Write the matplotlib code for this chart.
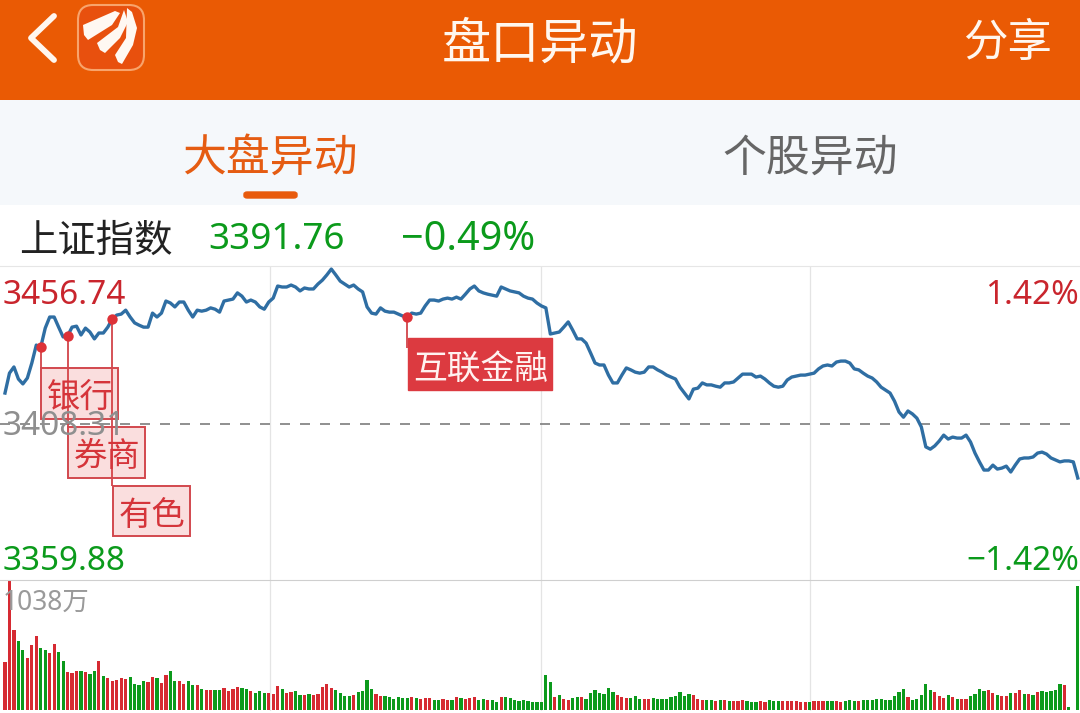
import numpy as np
import matplotlib
matplotlib.use('Agg')
import matplotlib.pyplot as plt
from matplotlib.patches import Rectangle, FancyBboxPatch, Polygon

plt.rcParams['font.family'] = ['Noto Sans', 'Noto Sans CJK SC', 'DejaVu Sans']

PRE_CLOSE = 3408.31
HIGH = 3456.74
LOW = 3359.88
price = [
3417.8,3423.9,3425.8,3422.1,3420.6,3422.4,3427.0,3432.5,3431.9,3437.7,3441.1,3441.1,3438.0,3435.0,3435.3,3438.0,3438.3,3435.6,3437.7,3436.5,
3434.4,3436.2,3436.2,3438.0,3440.5,3441.7,3442.0,3443.2,3441.1,3439.3,3438.6,3438.0,3438.0,3442.3,3441.1,3442.3,3446.0,3445.4,3444.2,3445.7,
3445.7,3443.2,3441.1,3443.2,3442.9,3443.2,3443.9,3443.5,3442.6,3446.0,3446.3,3446.6,3448.5,3447.5,3445.7,3446.3,3445.7,3444.2,3443.5,3445.7,
3446.9,3450.6,3450.3,3450.3,3450.9,3450.3,3449.1,3450.0,3449.7,3449.7,3451.2,3452.4,3454.0,3455.8,3454.0,3452.1,3451.2,3450.3,3450.9,3449.7,
3448.8,3444.2,3442.3,3442.0,3443.9,3442.9,3442.6,3442.6,3442.0,3441.4,3441.1,3442.3,3442.0,3442.3,3444.5,3446.3,3446.3,3446.0,3446.6,3446.9,
3446.6,3447.2,3446.6,3448.1,3449.7,3450.6,3449.1,3448.5,3448.1,3447.8,3447.5,3450.3,3449.7,3449.1,3448.8,3448.5,3447.5,3446.9,3446.6,3445.4,
3444.5,3443.9,3435.9,3436.2,3436.5,3438.0,3439.6,3437.1,3434.4,3434.4,3433.1,3430.1,3427.0,3426.4,3426.4,3423.3,3420.9,3420.9,3423.3,3425.5,
3424.9,3424.2,3423.9,3424.2,3425.8,3425.8,3424.9,3424.2,3423.3,3422.7,3422.1,3419.6,3417.8,3416.0,3419.0,3419.3,3420.9,3420.3,3420.3,3419.9,
3419.6,3420.9,3420.9,3421.2,3422.4,3423.6,3423.6,3423.6,3422.7,3423.0,3422.1,3420.9,3419.9,3419.6,3419.9,3421.8,3422.7,3423.0,3423.3,3423.3,
3423.6,3423.9,3425.2,3426.1,3426.4,3426.1,3427.3,3427.6,3427.6,3427.0,3425.2,3424.9,3423.9,3423.0,3422.4,3421.2,3419.6,3418.7,3417.8,3415.3,
3412.0,3410.4,3412.3,3411.4,3410.1,3407.4,3401.3,3400.6,3401.6,3403.1,3404.9,3403.7,3404.3,3404.0,3404.0,3404.9,3402.8,3399.4,3396.7,3394.2,
3394.2,3395.7,3394.5,3394.8,3395.4,3393.6,3395.7,3397.6,3397.9,3397.9,3398.2,3399.4,3399.7,3399.1,3397.9,3397.3,3396.7,3397.0,3397.0,3396.7,
3391.76]

volume = [
389,1038,643,555,482,415,523,595,501,482,456,528,464,397,308,295,311,316,306,287,
316,394,271,255,233,241,255,249,265,209,201,230,228,268,260,220,281,311,233,233,
212,236,201,198,169,158,163,161,161,177,155,169,182,174,166,150,139,150,134,139,
129,196,172,139,147,153,121,121,126,121,126,185,209,180,161,137,115,113,121,145,
155,241,172,126,113,115,105,91,102,94,94,105,96,91,96,99,80,80,88,83,
80,105,99,88,96,102,83,88,78,78,67,105,105,96,83,75,78,75,64,67,
67,281,225,105,123,88,80,94,107,105,91,137,158,137,129,177,145,123,107,96,
96,110,88,88,91,94,91,86,86,102,115,147,113,129,118,91,83,78,78,75,
78,83,75,72,70,80,72,62,64,72,64,78,75,72,75,75,72,72,67,62,
64,75,72,70,72,72,70,64,72,78,75,75,78,78,78,86,88,83,83,115,
147,172,105,80,88,121,206,158,145,110,94,118,105,88,88,88,113,129,172,150,
158,137,121,115,115,139,139,158,129,129,123,147,150,147,153,161,209,204,21,0,
1000]

direction = (
    "rrrggrrrggrrgg" "rrrgrggrgrrrrr"
    "ggggrrgrrggrrggrgrrg" "grrrrggrgggrrrgrrggr" "grrrrrggggrg"
    "gggrrggggggrgrrrggrr" "grgrrrggrggrgggggggg"
    "gggrgrrggrgggggggrrr" "gggrrgggggggggrrrggr"
    "grgrrrgggrrgggrrrrrr" "grrrggrrgggrgggggggg"
    "ggrgggggrrrgrgrrgggg" "rrgrrgrrgrgrgggggrg" "gg"
)

main_labels = [(8, '银行'), (14, '券商'), (24, '有色')]
hot_label = (90, '互联金融')

W, H = 1080, 713
RED = '#d62a32'
GREEN = '#0c9a1c'
GRAY = '#8f8f8f'
ORANGE = '#ea5a04'
TEXT_RED = '#c9252d'
TEXT_GREEN = '#0b9a1b'

fig = plt.figure(figsize=(W / 100, H / 100), dpi=100, facecolor='white')

def fx(x):
    return x / W

def fy(y):
    return 1 - y / H

def axes_px(x0, y0, x1, y1):
    return fig.add_axes([fx(x0), fy(y1), fx(x1) - fx(x0), (y1 - y0) / H])

def txt(x, y, s, size, color, ha='left', **kw):
    fig.text(fx(x), fy(y), s, fontsize=size, color=color, ha=ha, va='center', **kw)

def rect(x0, y0, x1, y1, **kw):
    r = Rectangle((fx(x0), fy(y1)), fx(x1) - fx(x0), (y1 - y0) / H,
                  transform=fig.transFigure, **kw)
    fig.add_artist(r)

# ---- chrome
rect(0, 0, W, 100, facecolor=ORANGE, edgecolor='none')
rect(0, 100, W, 205, facecolor='#f5f8fb', edgecolor='none')
fig.add_artist(plt.Line2D([fx(54), fx(31), fx(54)], [fy(16), fy(38), fy(60)],
                          color='#fff6ee', lw=4.2, solid_capstyle='round',
                          solid_joinstyle='round'))
fig.add_artist(FancyBboxPatch((fx(78), fy(70)), fx(66), 65 / H,
                              boxstyle='round,pad=0,rounding_size=0.014',
                              mutation_aspect=W / H,
                              transform=fig.transFigure, facecolor='#e8500e',
                              edgecolor='#f8a46c', lw=1.5))
for poly in ([(83, 25), (115, 11), (120, 13), (112, 25), (88, 40), (84, 35)],
             [(97, 43), (118, 27), (124, 10), (128, 22), (120, 38), (105, 53), (100, 50)],
             [(115, 55), (126, 38), (127, 8), (132, 12), (137, 28), (133, 45), (122, 64), (118, 62)]):
    fig.add_artist(Polygon([(fx(a), fy(b)) for a, b in poly], closed=True,
                           transform=fig.transFigure, facecolor='#fff8f2',
                           edgecolor='none'))
txt(540, 45, '盘口异动', 35.4, '#fff7ef', ha='center')
txt(1008, 45, '分享', 32, '#fff7ef', ha='center')
txt(270, 160, '大盘异动', 31.6, '#e55c12', ha='center')
txt(810, 160, '个股异动', 31.6, '#666666', ha='center')
fig.add_artist(FancyBboxPatch((fx(244), fy(198)), fx(53), 6 / H,
                              boxstyle='round,pad=0,rounding_size=0.003',
                              transform=fig.transFigure, facecolor='#e85a0c',
                              edgecolor='#e85a0c', lw=1))
txt(19, 242, '上证指数', 27.6, '#222222')
txt(208, 240, '3391.76', 26.5, TEXT_GREEN)
txt(401, 240, '−0.49%', 28.5, TEXT_GREEN)

# ---- price panel
t = np.arange(len(price))
xlim = (-5 / 4.47, (W - 5) / 4.47)
grid_x = [59.3, 120, 180]

ax = axes_px(0, 266, W, 580)
ax.set_xlim(xlim)
ax.set_ylim(3360.5, HIGH)
ax.set_xticks(grid_x)
ax.set_yticks([])
ax.tick_params(length=0, labelbottom=False)
ax.grid(axis='x', color='#e4e4e4', lw=0.9)
ax.set_axisbelow(True)
for s in ('left', 'right', 'bottom'):
    ax.spines[s].set_visible(False)
ax.spines['top'].set_color('#e6e6e6')
ax.axhline(PRE_CLOSE, color='#7d7d7d', lw=1.2, dashes=(6, 6))
ax.plot(t, price, color='#2f6ea3', lw=2.4, solid_joinstyle='round', zorder=3)

LINE_RED = '#d2444a'
stem_bottom = {8: 3425.5, 14: 3407.4, 24: 3389.3}
for i, _ in main_labels:
    ax.vlines(i, stem_bottom[i], price[i], color=LINE_RED, lw=1.3, zorder=4)
    ax.plot(i, price[i], 'o', color='#dd3238', ms=7.5, zorder=5, mec='none')
ax.vlines(hot_label[0], 3431.6, price[hot_label[0]], color=LINE_RED, lw=1.3, zorder=4)
ax.plot(hot_label[0], price[hot_label[0]], 'o', color='#dd3238', ms=7.5, zorder=5, mec='none')

# ---- value labels
txt(3, 295, f'{HIGH:.2f}', 24, TEXT_RED)
txt(3, 427, f'{PRE_CLOSE:.2f}', 24, GRAY)
txt(3, 562, f'{LOW:.2f}', 24, TEXT_GREEN)
txt(1079, 295, '1.42%', 24, TEXT_RED, ha='right')
txt(1079, 562, '−1.42%', 24, TEXT_GREEN, ha='right')

# ---- event tags
boxes = [(41, 368, 118, 419), (68, 427, 145, 478), (113, 486, 190, 536)]
for (i, label), (x0, y0, x1, y1) in zip(main_labels, boxes):
    rect(x0, y0, x1, y1, facecolor=(0.90, 0.25, 0.25, 0.17), edgecolor='#d2484e', lw=1.4)
    txt((x0 + x1) / 2 + 1, (y0 + y1) / 2 + 5, label, 24, '#d5343a', ha='center')
rect(408, 338, 552, 390, facecolor='#dc3a40', edgecolor='#dc3a40', lw=1)
txt(481, 370, hot_label[1], 24.3, '#fff2f0', ha='center')

# ---- volume panel
vax = axes_px(0, 580, W, 711)
vax.set_xlim(xlim)
vax.set_ylim(-8, 1046)
vax.set_xticks(grid_x)
vax.set_yticks([])
vax.tick_params(length=0, labelbottom=False)
vax.grid(axis='x', color='#e4e4e4', lw=0.9)
vax.set_axisbelow(True)
for s in ('left', 'right', 'bottom'):
    vax.spines[s].set_visible(False)
vax.spines['top'].set_color('#cfcfcf')
vt = np.arange(len(volume))
colors = [RED if c == 'r' else GREEN for c in direction]
vax.bar(vt, volume, width=0.72, color=colors, linewidth=0)
txt(3, 603, '1038万', 19, '#9a9a9a')

fig.savefig('out.png', dpi=100, facecolor='white')
